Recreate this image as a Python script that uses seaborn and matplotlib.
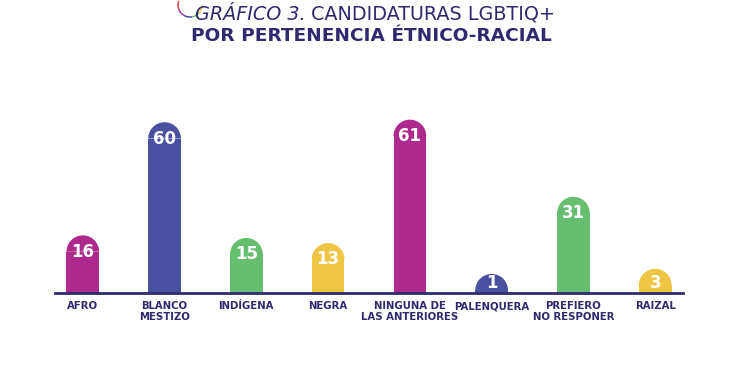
import numpy as np
import pandas as pd
import matplotlib
matplotlib.use("Agg")
import matplotlib.pyplot as plt
from matplotlib.patches import Polygon, Arc
import seaborn as sns

# datos del gráfico
categorias = ["AFRO", "BLANCO\nMESTIZO", "INDÍGENA", "NEGRA", "NINGUNA DE\nLAS ANTERIORES",
              "PALENQUERA", "PREFIERO\nNO RESPONER", "RAIZAL"]
candidaturas = [16, 60, 15, 13, 61, 1, 31, 3]
colores = ["#ad2a8c", "#4b4f9f", "#66bf70", "#eec643", "#ad2a8c", "#4b4f9f", "#66bf70", "#eec643"]

NAVY = "#2f2a6d"

sns.set_theme(style="white")
plt.rcParams["font.family"] = ["DejaVu Sans"]

df = pd.DataFrame({"categoria": categorias, "valor": candidaturas})

fig = plt.figure(figsize=(7.5, 3.75), dpi=100)
ax = fig.add_axes([0.073, 0.219, 0.838, 0.48])

sns.barplot(data=df, x="categoria", y="valor", hue="categoria", palette=colores,
            width=0.40, legend=False, ax=ax, saturation=1, linewidth=0)

ax.set_xlim(-0.343, 7.343)
ax.set_ylim(0, 70)

# tapa redondeada (media elipse) encima de cada barra
fig.canvas.draw()
inv = ax.transData.inverted()
ang = np.linspace(0, np.pi, 40)
for bar, col in zip(ax.patches, colores):
    x0, w, h = bar.get_x(), bar.get_width(), bar.get_height()
    cx = x0 + w / 2
    p0 = ax.transData.transform((x0, 0))
    p1 = ax.transData.transform((x0 + w, 0))
    r_px = (p1[0] - p0[0]) / 2
    r_data = inv.transform((p0[0], p0[1] + r_px))[1] - inv.transform(p0)[1]
    pts = np.column_stack([cx + (w / 2) * np.cos(ang), h + r_data * np.sin(ang)])
    ax.add_patch(Polygon(pts, closed=True, facecolor=col, edgecolor="none", zorder=2))
    # las barras muy bajas: subir la cifra para que quepa en la cúpula
    y_txt = max(h, r_data * 0.6)
    ax.text(cx, y_txt, str(int(h)), ha="center", va="center", color="white",
            fontsize=12, fontweight="bold", zorder=3)

for s in ["top", "left", "right"]:
    ax.spines[s].set_visible(False)
ax.spines["bottom"].set_color(NAVY)
ax.spines["bottom"].set_linewidth(2)
ax.spines["bottom"].set_zorder(4)
ax.set_yticks([])
ax.set_xlabel("")
ax.set_ylabel("")
ax.tick_params(axis="x", length=0, pad=6)
for lbl in ax.get_xticklabels():
    lbl.set_fontsize(7.3)
    lbl.set_fontweight("bold")
    lbl.set_color(NAVY)
    lbl.set_linespacing(1.15)
    lbl.set_verticalalignment("top")

# pequeño arco de colores junto al título
arc_cols = ["#e2403f", "#9b3fa0", "#4b4f9f", "#66bf70", "#eec643"]
for i, c in enumerate(arc_cols):
    fig.add_artist(Arc((1.90, 3.70), 0.24, 0.24, theta1=160 + i * 40, theta2=200 + i * 40,
                       transform=fig.dpi_scale_trans, color=c, lw=1.1))

# título
fig.text(0.408, 0.962, "GRÁFICO 3.", ha="right", va="center", color=NAVY,
         fontsize=13.8, fontstyle="italic", fontweight="light")
fig.text(0.415, 0.962, "CANDIDATURAS LGBTIQ+", ha="left", va="center", color=NAVY,
         fontsize=13.8)
fig.text(0.495, 0.905, "POR PERTENENCIA ÉTNICO-RACIAL", ha="center", va="center",
         color=NAVY, fontsize=13.3, fontweight="bold")

fig.savefig("out.png", dpi=100, facecolor="white")
